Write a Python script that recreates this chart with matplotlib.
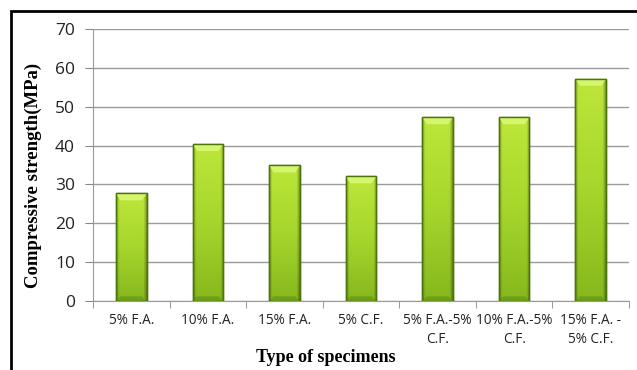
import numpy as np
import matplotlib
matplotlib.use("Agg")
import matplotlib.pyplot as plt
from matplotlib.patches import Rectangle, Polygon
from matplotlib.colors import LinearSegmentedColormap

specimens = ["5% F.A.", "10% F.A.", "15% F.A.", "5% C.F.",
             "5% F.A.-5%\nC.F.", "10% F.A.-5%\nC.F.", "15% F.A. -\n5% C.F."]
strength = [27.7, 40.4, 34.9, 32.1, 47.3, 47.3, 57.2]
yticks = [0, 10, 20, 30, 40, 50, 60, 70]

fig = plt.figure(figsize=(6.37, 3.70), dpi=100)
ax = fig.add_axes([93 / 637, 1 - 301 / 370, (629 - 93) / 637, 272 / 370])

x = np.arange(len(specimens))
bars = ax.bar(x, strength, width=0.4, color="#9fd12a", edgecolor="#4d7a0c",
              linewidth=1.0, zorder=3)

# shading: bright on top, darker green lower down, darker sides
vert = LinearSegmentedColormap.from_list("v", ["#86b81e", "#a6d62c", "#bde63a"])
side = LinearSegmentedColormap.from_list(
    "s", [(0, 0, 0, 0.35), (0, 0, 0, 0.0), (0, 0, 0, 0.0), (0, 0, 0, 0.35)])
vgrad = np.linspace(0, 1, 100).reshape(-1, 1)
hgrad = np.concatenate([np.linspace(0, 0.3, 10), np.full(80, 0.5),
                        np.linspace(0.7, 1, 10)]).reshape(1, -1)
for b in bars:
    x0, w, h = b.get_x(), b.get_width(), b.get_height()
    im = ax.imshow(vgrad, cmap=vert, aspect="auto", zorder=3.2, origin="lower",
                   extent=[x0, x0 + w, 0, h])
    im.set_clip_path(b)
    im2 = ax.imshow(hgrad, cmap=side, aspect="auto", zorder=3.3,
                    extent=[x0, x0 + w, 0, h])
    im2.set_clip_path(b)
    # top bevel
    ax.add_patch(Polygon([(x0, h), (x0 + w, h), (x0 + w * 0.85, h - 1.8),
                          (x0 + w * 0.15, h - 1.8)], closed=True,
                         color="#d6f56e", lw=0, zorder=4))
    # bottom bevel
    ax.add_patch(Polygon([(x0, 0), (x0 + w, 0), (x0 + w * 0.85, 1.2),
                          (x0 + w * 0.15, 1.2)], closed=True,
                         color="#5f8f14", alpha=0.6, lw=0, zorder=4))
    ax.add_patch(Rectangle((x0, 0), w, h, fill=False, edgecolor="#4a740c",
                           lw=1.0, zorder=4.5))

ax.set_xlim(-0.5, len(specimens) - 0.5)
ax.set_ylim(0, 70)
ax.set_yticks(yticks)
ax.set_yticklabels([str(v) for v in yticks], fontsize=12.5, family="Open Sans",
                   color="#222222")
ax.set_xticks(x)
ax.set_xticklabels(specimens, fontsize=9.8, family="Open Sans", color="#222222",
                   linespacing=1.3)
ax.set_xticks(np.arange(-0.5, len(specimens)), minor=True)
ax.tick_params(axis="x", which="major", length=0, pad=9)
ax.tick_params(axis="x", which="minor", length=5, color="#888888")
ax.tick_params(axis="y", length=6, color="#888888", pad=7)
ax.grid(axis="y", color="#9a9a9a", linewidth=1.0, zorder=0)
for s in ["top", "right"]:
    ax.spines[s].set_visible(False)
ax.spines["left"].set_color("#9a9a9a")
ax.spines["bottom"].set_color("#9a9a9a")

fig.text(33 / 637, 1 - 175 / 370, "Compressive strength(MPa)", rotation=90,
         ha="center", va="center", fontsize=13.5, fontweight="bold",
         family="Liberation Serif")
fig.text(326 / 637, 1 - 357 / 370, "Type of specimens", ha="center",
         va="center", fontsize=13, fontweight="bold", family="Liberation Serif")

# outer frame
fig.add_artist(Rectangle((11 / 637, -0.1), 1.0, 1 - 11 / 370 + 0.1,
                         transform=fig.transFigure, fill=False,
                         edgecolor="black", linewidth=2))

fig.savefig("out.png", dpi=100)
